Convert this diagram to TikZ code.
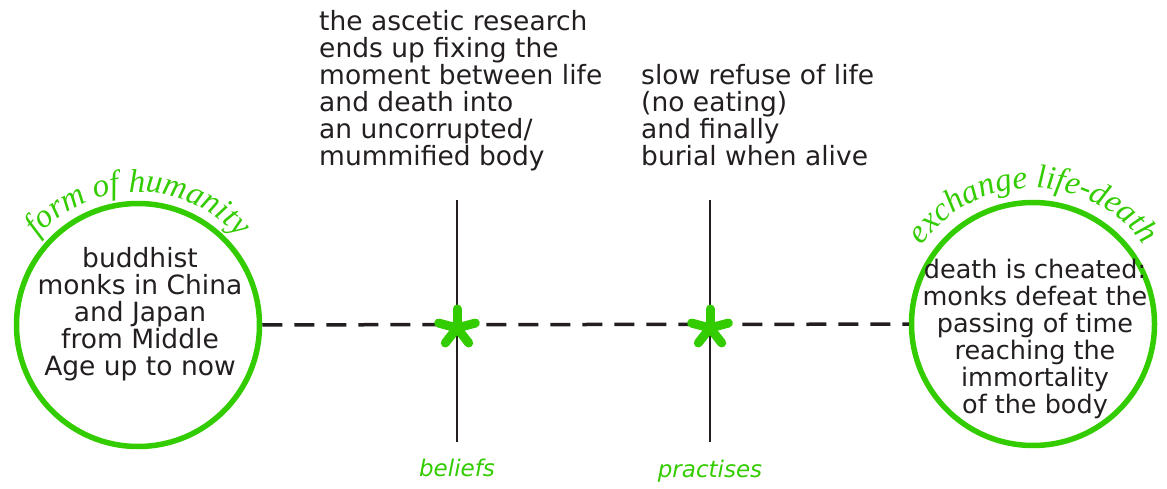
\documentclass[tikz,border=0pt]{standalone}
\usepackage{fontspec}
\setmainfont{DejaVu Sans}
\newfontfamily\arcfont{Liberation Serif}
\usetikzlibrary{decorations.text}
\definecolor{grn}{HTML}{33CC00}
\definecolor{ink}{HTML}{231F20}
\tikzset{
	ring/.style={
		draw=grn,
		line width=5.5pt,
		circle,
		minimum size=243pt,
		inner sep=0pt
	},
	body/.style={
		text=ink,
		align=center,
		inner sep=0pt,
		font=\fontsize{26.5}{27}\selectfont
	},
	note/.style={
		text=ink,
		align=left,
		inner sep=0pt,
		anchor=north west,
		font=\fontsize{26.5}{27}\selectfont
	},
	stem/.style={draw=ink, line width=2.8pt},
	dashline/.style={draw=ink, line width=3.5pt, dash pattern=on 20pt off 12pt},
	asterisk/.style={draw=grn, line width=9pt, line cap=round},
	tag/.style={
		text=grn,
		inner sep=0pt,
		font=\fontsize{23}{23}\selectfont\itshape
	},
	arclabel/.style={
		decorate,
		decoration={
			text along path,
			text align=center,
			text={|\arcfont\itshape\fontsize{33}{33}\selectfont\color{grn}|#1}
		}
	},
}

\begin{document}
\begin{tikzpicture}[x=1pt, y=1pt]
	\useasboundingbox (0,0) rectangle (1167,488);

	% the two ends
	\node[ring] (form) at (138,163) {};
	\node[ring] (exch) at (1033,164) {};
	\node[body] (formtxt) at (140,174) {buddhist\\monks in China\\and Japan\\from Middle\\Age up to now};
	\node[body, font=\fontsize{25.5}{27}\selectfont] (exchtxt) at (1035,149) {death is cheated:\\monks defeat the\\passing of time\\reaching the\\immortality\\of the body};

	\path[arclabel={form of humanity}] ([shift={(165:133pt)}]form.center) arc[start angle=165, end angle=15, radius=133pt];
	\path[arclabel={exchange life-death}] ([shift={(165:136pt)}]exch.center) arc[start angle=165, end angle=15, radius=136pt];

	% the two stems
	\coordinate (beltop) at (457,288);
	\coordinate (belbot) at (457,46);
	\coordinate (pratop) at (710,288);
	\coordinate (prabot) at (710,46);
	\draw[stem] (beltop) -- (belbot);
	\draw[stem] (pratop) -- (prabot);

	\draw[dashline] (form) -- (exch);

	\coordinate (belstar) at (457,160);
	\coordinate (prastar) at (710,160);
	\foreach \s in {belstar, prastar}
		\foreach \a in {90, 15, 165, -52, 232}
			\draw[asterisk] (\s) -- ++(\a:19);

	\node[tag] (beliefs) at (457,20) {beliefs};
	\node[tag] (practises) at (710,17) {practises};

	\node[note] (research) at (319,478) {the ascetic research\\ends up fixing the\\moment between life\\and death into\\an uncorrupted/\\mummified body};
	\node[note] (refuse) at (641,424) {slow refuse of life\\(no eating)\\and finally\\burial when alive};
\end{tikzpicture}
\end{document}
